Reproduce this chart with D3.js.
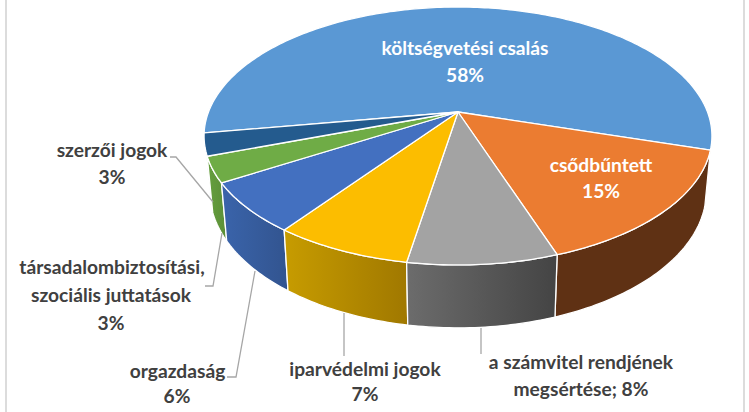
<!DOCTYPE html>
<html>
<head>
<meta charset="utf-8">
<script src="https://cdn.jsdelivr.net/npm/d3@7"></script>
<style>
  html, body { margin: 0; padding: 0; background: #fff; }
  svg { display: block; }
  text { font-family: Lato, "Open Sans", sans-serif; font-weight: 700; font-size: 19.2px; text-anchor: middle; }
</style>
</head>
<body>
<svg width="749" height="412"></svg>
<script>
const svg = d3.select("svg");

const categories = ["költségvetési csalás", "csődbűntett", "a számvitel rendjének megsértése", "iparvédelmi jogok", "orgazdaság", "társadalombiztosítási, szociális juttatások", "szerzői jogok"];
const shares = [57.3, 15, 8, 7.4, 6.3, 3.2, 2.8]; // slice sizes
const percentLabels = ["58%", "15%", "8%", "7%", "6%", "3%", "3%"];
const topColors = ["#5a98d4", "#eb7c31", "#a3a3a3", "#fcbd00", "#4370c0", "#6fac46", "#245b8e"];
const wallLeft = ["#3c6d9e", "#5f3114", "#6c6c6c", "#c79c00", "#3a64ab", "#669f3f", "#2a6a9e"];
const wallRight = ["#3c6d9e", "#5f3114", "#444444", "#a07800", "#32548f", "#5b8f37", "#2a6a9e"];

const rad = Math.PI / 180;
const startAngle = 260.6 * rad;

// perspective of the disc: k pulls the near edge towards the viewer
const k = 0.186;
const xScale = d3.scaleLinear().domain([-1, 1]).range([458 - 249.5, 458 + 249.5]);
const topY = d3.scaleLinear().domain([-1, 1]).range([112 - 124.5, 112 + 124.5]);
const bottomY = d3.scaleLinear().domain([-1, 1]).range([165.7 - 132, 165.7 + 132]);
const bottomX = d3.scaleLinear().domain([-1, 1]).range([458 - 244, 458 + 244]);

function project(a, sx, sy) {
  const u = Math.sin(a), v = -Math.cos(a), w = 1 - k * v;
  return [sx(u / w), sy(v / w)];
}

function arcPoints(a0, a1, sx, sy) {
  const n = Math.max(2, Math.ceil((a1 - a0) / (1 * rad)));
  return d3.range(n + 1).map((i) => project(a0 + (a1 - a0) * i / n, sx, sy));
}

const pie = d3.pie().sort(null).startAngle(startAngle).endAngle(startAngle + 2 * Math.PI);
const slices = pie(shares);
const line = d3.line();

// frame of the screenshot
svg.selectAll("line.frame").data([6, 744]).join("line")
  .attr("class", "frame")
  .attr("x1", (d) => d).attr("x2", (d) => d)
  .attr("y1", 0).attr("y2", 412)
  .attr("stroke", "#dcdcdc").attr("stroke-width", 2);

// gradients for the side walls
const defs = svg.append("defs");
slices.forEach((s, i) => {
  const g = defs.append("linearGradient").attr("id", "wall" + i);
  g.append("stop").attr("offset", 0).attr("stop-color", wallLeft[i]);
  g.append("stop").attr("offset", 1).attr("stop-color", wallRight[i]);
});

// walls, drawn from the sides towards the front
const wallOrder = [6, 1, 5, 4, 3, 2];
svg.append("g").selectAll("path").data(wallOrder).join("path")
  .attr("d", (i) => {
    const s = slices[i];
    const a0 = s.startAngle, a1 = s.endAngle;
    return line(arcPoints(a0, a1, xScale, topY).concat(arcPoints(a0, a1, bottomX, bottomY).reverse())) + "Z";
  })
  .attr("fill", (i) => `url(#wall${i})`)
  .attr("stroke", "#fff").attr("stroke-width", 1.3).attr("stroke-linejoin", "round");

// top of the disc
svg.append("g").selectAll("path").data(slices).join("path")
  .attr("d", (s) => line([[xScale(0), topY(0)]].concat(arcPoints(s.startAngle, s.endAngle, xScale, topY))) + "Z")
  .attr("fill", (s, i) => topColors[i])
  .attr("stroke", "#fff").attr("stroke-width", 1.3).attr("stroke-linejoin", "round");

// leader lines
const leaders = [
  [[170, 157], [176, 157], [213, 202]],
  [[205, 286], [213, 286], [222, 233]],
  [[227, 377], [236, 377], [255, 271]],
  [[344, 313], [344, 356]],
  [[481, 328], [481, 354]],
];
svg.append("g").selectAll("path").data(leaders).join("path")
  .attr("d", (d) => line(d))
  .attr("fill", "none").attr("stroke", "#a6a6a6").attr("stroke-width", 1.3);

// data labels
const labelRows = [
  { t: categories[0], x: 465, y: 55, c: "#fff" },
  { t: percentLabels[0], x: 465, y: 82, c: "#fff" },
  { t: categories[1], x: 601, y: 172, c: "#fff" },
  { t: percentLabels[1], x: 601, y: 198, c: "#fff" },
  { t: categories[6], x: 112, y: 157 },
  { t: percentLabels[6], x: 112, y: 184 },
  { t: "társadalombiztosítási,", x: 112, y: 274 },
  { t: "szociális juttatások", x: 111, y: 302 },
  { t: percentLabels[5], x: 111, y: 330 },
  { t: categories[4], x: 177.5, y: 378 },
  { t: percentLabels[4], x: 177, y: 403 },
  { t: categories[3], x: 365, y: 376 },
  { t: percentLabels[3], x: 365, y: 401 },
  { t: "a számvitel rendjének", x: 581, y: 369 },
  { t: "megsértése; " + percentLabels[2], x: 581, y: 396 },
];
svg.append("g").selectAll("text").data(labelRows).join("text")
  .attr("x", (d) => d.x).attr("y", (d) => d.y)
  .attr("fill", (d) => d.c || "#404040")
  .text((d) => d.t);
</script>
</body>
</html>
